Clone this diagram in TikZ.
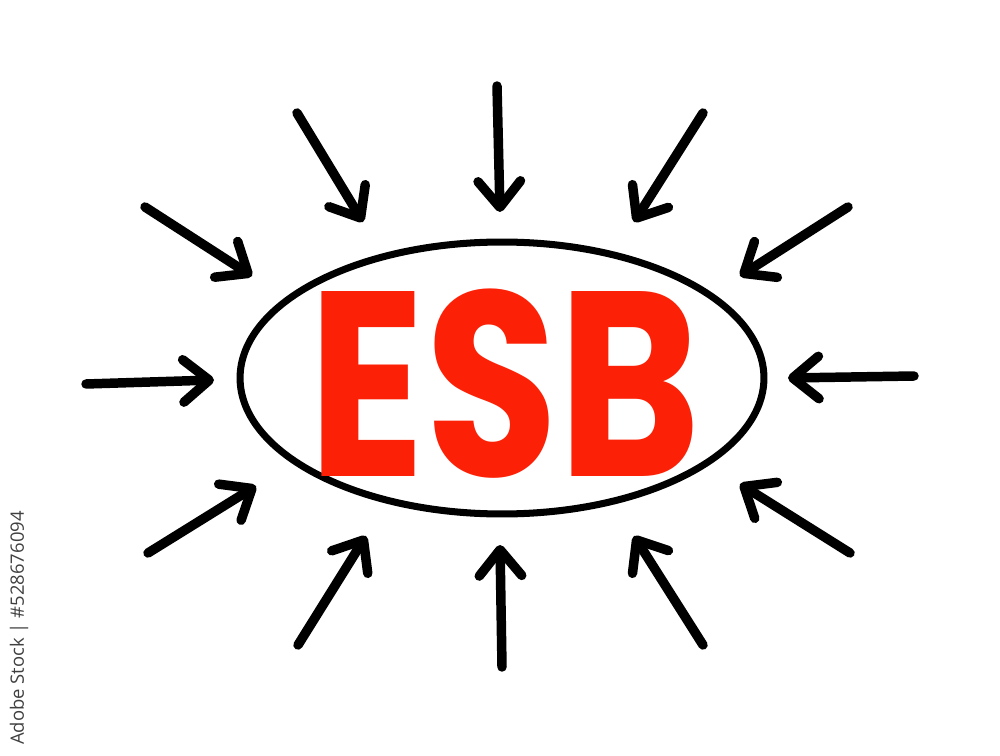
\documentclass[tikz,border=0pt]{standalone}
\usepackage{fontspec}
\usepackage{tikz}
\usepackage{xcolor}
\usetikzlibrary{arrows.meta,positioning,shapes.geometric}
\newfontfamily\esbfont{Poppins}
\newfontfamily\idfont{Open Sans}
\definecolor{esbred}{RGB}{252,32,6}
\tikzset{
    inarrow/.style={line width=5.4pt,line cap=round,
        -{Straight Barb[length=0.52cm,width=0.85cm,line cap=round,line join=round]}},
}

\begin{document}
\begin{tikzpicture}[x=0.02cm,y=-0.02cm]
    \useasboundingbox (0,0) rectangle (1000,756);

    % Central ellipse
    \node[ellipse,draw,line width=4pt,minimum width=10.48cm,minimum height=5.44cm,inner sep=0pt] (esb) at (502,378) {};
    \node[text=esbred] (label) at (505,384) {\scalebox{0.82}[1]{\esbfont\bfseries\fontsize{150}{150}\selectfont ESB}};

    % Arrow tails
    \coordinate (t1) at (497,86);
    \coordinate (t2) at (297,113);
    \coordinate (t3) at (703,113);
    \coordinate (t4) at (145,207);
    \coordinate (t5) at (848,207);
    \coordinate (t6) at (86,384);
    \coordinate (t7) at (914,376);
    \coordinate (t8) at (148,553);
    \coordinate (t9) at (850,553);
    \coordinate (t10) at (298,645);
    \coordinate (t11) at (502,667);
    \coordinate (t12) at (703,645);

    % Arrow tips
    \coordinate (h1) at (500,212);
    \coordinate (h2) at (363,222);
    \coordinate (h3) at (634,222);
    \coordinate (h4) at (252,276);
    \coordinate (h5) at (740,276);
    \coordinate (h6) at (214,380);
    \coordinate (h7) at (788,378);
    \coordinate (h8) at (256,486);
    \coordinate (h9) at (740,484);
    \coordinate (h10) at (366,536);
    \coordinate (h11) at (500,545);
    \coordinate (h12) at (634,536);

    % Arrows
    \draw[inarrow] (t1) -- (h1);
    \draw[inarrow] (t2) -- (h2);
    \draw[inarrow] (t3) -- (h3);
    \draw[inarrow] (t4) -- (h4);
    \draw[inarrow] (t5) -- (h5);
    \draw[inarrow] (t6) -- (h6);
    \draw[inarrow] (t7) -- (h7);
    \draw[inarrow] (t8) -- (h8);
    \draw[inarrow] (t9) -- (h9);
    \draw[inarrow] (t10) -- (h10);
    \draw[inarrow] (t11) -- (h11);
    \draw[inarrow] (t12) -- (h12);

    % Stock id
    \node[rotate=90,text=black!75,font=\idfont\fontsize{10.5}{12}\selectfont] (stockid) at (19,628) {Adobe Stock | \#528676094};
\end{tikzpicture}
\end{document}
